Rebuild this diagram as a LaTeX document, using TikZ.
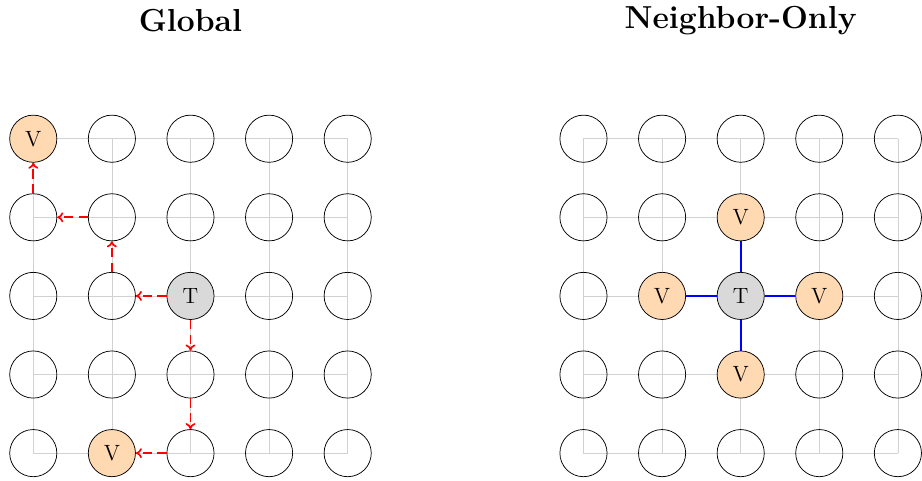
\documentclass[tikz,border=0pt]{standalone}
\usepackage{amsmath,amssymb,amsfonts}
\usepackage{tikz}
\usetikzlibrary{arrows.meta}

\tikzset{
	cell/.style={circle, draw=black, minimum size=0.9cm, inner sep=0pt, font=\large},
	vcell/.style={cell, fill=orange!30},
	tcell/.style={cell, fill=gray!30},
	gridline/.style={gray!35},
	flow/.style={-{To[length=3.3pt,width=5.4pt]}, red, line width=0.9pt, dash pattern=on 5pt off 3pt},
	link/.style={blue, line width=0.9pt},
	title/.style={font=\LARGE\bfseries}
}

\begin{document}
\begin{tikzpicture}
	\useasboundingbox (-0.635,-6.53) rectangle (16.96,2.647);
	\node[title] (tglobal) at (3,2.25) {Global};
	\node[title] (tneighbor) at (13.5,2.25) {Neighbor-Only};
	\draw[gridline] (0,-6) grid[step=1.5] (6,0);
	\draw[gridline, xshift=10.5cm] (0,-6) grid[step=1.5] (6,0);
	\foreach \x in {0,...,4}
		\foreach \y in {0,...,4}{
			\pgfmathtruncatemacro{\isspecial}{(\x==0 && \y==0) || (\x==2 && \y==2) || (\x==1 && \y==4)}
			\ifnum\isspecial=0 \node[cell] (l\x\y) at (1.5*\x,-1.5*\y) {}; \fi
			\pgfmathtruncatemacro{\dist}{abs(\x-2)+abs(\y-2)}
			\ifnum\dist>1 \node[cell] (r\x\y) at (10.5+1.5*\x,-1.5*\y) {}; \fi
		}
	\node[vcell] (l00) at (0,0) {V};
	\node[tcell] (l22) at (3,-3) {T};
	\node[vcell] (l14) at (1.5,-6) {V};
	\node[tcell] (r22) at (13.5,-3) {T};
	\node[vcell] (r21) at (13.5,-1.5) {V};
	\node[vcell] (r12) at (12,-3) {V};
	\node[vcell] (r32) at (15,-3) {V};
	\node[vcell] (r23) at (13.5,-4.5) {V};
	\draw[flow] (l22) -- (l12);
	\draw[flow] (l12) -- (l11);
	\draw[flow] (l11) -- (l01);
	\draw[flow] (l01) -- (l00);
	\draw[flow] (l22) -- (l23);
	\draw[flow] (l23) -- (l24);
	\draw[flow] (l24) -- (l14);
	\draw[link] (r22) -- (r21);
	\draw[link] (r22) -- (r12);
	\draw[link] (r22) -- (r32);
	\draw[link] (r22) -- (r23);
\end{tikzpicture}
\end{document}
